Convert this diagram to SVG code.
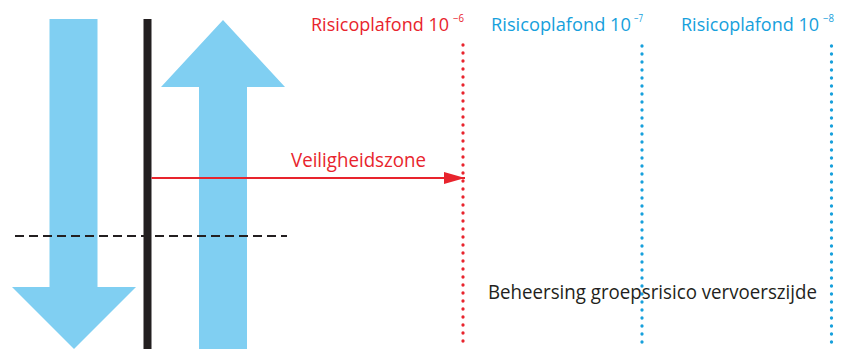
<svg xmlns="http://www.w3.org/2000/svg" width="848" height="349" viewBox="0 0 848 349">
<defs>
<style>
.blue{fill:#80cff2}
.t{font-family:"Open Sans","Liberation Sans",sans-serif;font-size:20px}
.h{font-family:"Open Sans","Liberation Sans",sans-serif;font-size:18px}
.sup{font-family:"Open Sans","Liberation Sans",sans-serif;font-size:10px}
.red{fill:#e8242d}
.cyan{fill:#16a0dc}
.dotr{stroke:#e8242d;stroke-width:3.3;stroke-linecap:round;stroke-dasharray:0 8;fill:none}
.dotb{stroke:#16a0dc;stroke-width:3.3;stroke-linecap:round;stroke-dasharray:0 8;fill:none}
</style>
<marker id="ah" viewBox="0 0 21 12" refX="21" refY="6" markerWidth="21" markerHeight="12" markerUnits="userSpaceOnUse" orient="auto">
<path d="M0,0 L21,6 L0,12 Z" fill="#e8242d"/>
</marker>
</defs>
<rect width="848" height="349" fill="#fff"/>
<g id="arrow-down">
<path class="blue" d="M49.5,19 H97.5 V287 H136 L74,349 L12,287 H49.5 Z"/>
</g>
<g id="arrow-up">
<path class="blue" d="M199,349 V87 H161 L223,20 L285,87 H247 V349 Z"/>
</g>
<g id="boundary">
<rect x="143.5" y="19" width="8" height="330" fill="#231f20"/>
</g>
<g id="dashed-line">
<line x1="15" y1="236" x2="287" y2="236" stroke="#231f20" stroke-width="2" stroke-dasharray="9 5"/>
</g>
<g id="plafond-6">
<text class="h red" x="311" y="31" textLength="138" lengthAdjust="spacingAndGlyphs">Risicoplafond 10</text>
<text class="sup red" x="453" y="22" textLength="11" lengthAdjust="spacingAndGlyphs">−6</text>
<line class="dotr" x1="463" y1="45" x2="463" y2="349"/>
</g>
<g id="plafond-7">
<text class="h cyan" x="491" y="31" textLength="140" lengthAdjust="spacingAndGlyphs">Risicoplafond 10</text>
<text class="sup cyan" x="634" y="22" textLength="9" lengthAdjust="spacingAndGlyphs">−7</text>
<line class="dotb" x1="642" y1="46" x2="642" y2="349"/>
</g>
<g id="plafond-8">
<text class="h cyan" x="681" y="31" textLength="138" lengthAdjust="spacingAndGlyphs">Risicoplafond 10</text>
<text class="sup cyan" x="823" y="22" textLength="11" lengthAdjust="spacingAndGlyphs">−8</text>
<line class="dotb" x1="831.5" y1="46" x2="831.5" y2="349"/>
</g>
<g id="connectors">
<line x1="151.5" y1="178" x2="465" y2="178" stroke="#e8242d" stroke-width="2" marker-end="url(#ah)"/>
<text class="t red" x="291" y="167" font-size="18.5" textLength="135" lengthAdjust="spacingAndGlyphs">Veiligheidszone</text>
</g>
<g id="label">
<text class="t" x="488" y="299" fill="#231f20" textLength="329" lengthAdjust="spacingAndGlyphs">Beheersing groepsrisico vervoerszijde</text>
</g>
</svg>
